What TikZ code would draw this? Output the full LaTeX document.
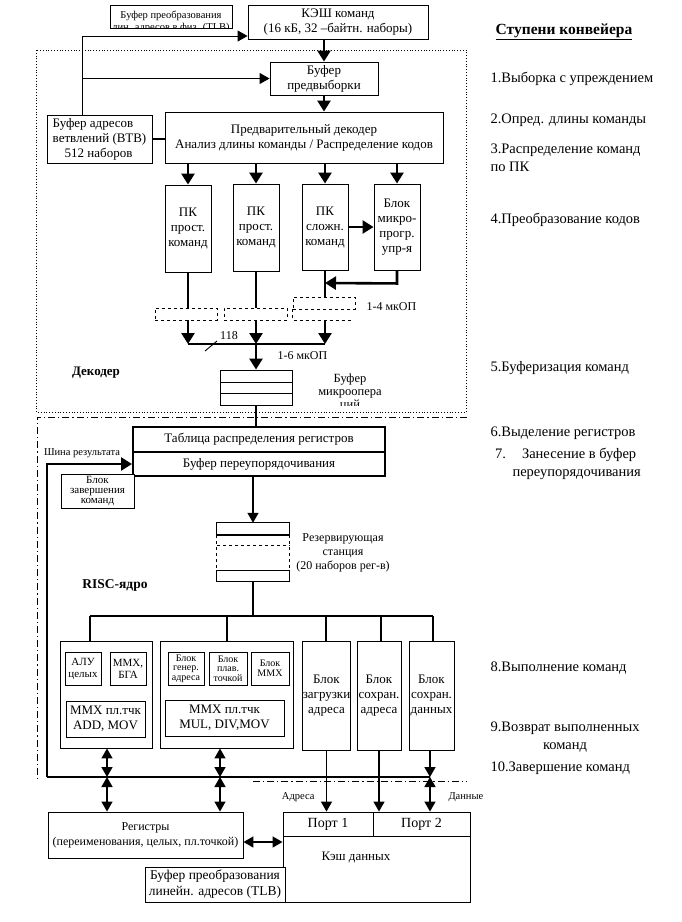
\documentclass[tikz,border=0pt]{standalone}
\usepackage{fontspec}
\setmainfont{Liberation Serif}
\usetikzlibrary{arrows.meta,calc}

\begin{document}
\begin{tikzpicture}[x=1pt,y=-1pt,
  font=\fontsize{13}{15}\selectfont,
  box/.style={draw,line width=0.9pt,inner sep=0.5pt,align=center,fill=white},
  sm/.style={font=\fontsize{10.5}{12}\selectfont},
  tiny/.style={font=\fontsize{10}{9.6}\selectfont},
  stage/.style={anchor=west,align=left,font=\fontsize{14.5}{18}\selectfont},
  hd/.style={-{Triangle[length=10pt,width=11pt]}},
  hdk/.style={-{Triangle[length=11pt,width=13pt]}},
  hh/.style={{Triangle[length=10pt,width=11pt]}-{Triangle[length=10pt,width=11pt]}},
  thk/.style={line width=2.6pt},
  mid/.style={line width=1.6pt},
  thn/.style={line width=0.9pt},
  dashbox/.style={draw,dashed,line width=0.7pt,minimum height=12,inner sep=0pt}]
\useasboundingbox (0,0) rectangle (681,922);

% frames
\draw[dotted,line width=0.8pt] (36,50) rectangle (466,412);
\draw[line width=0.8pt,dash pattern=on 7pt off 3pt on 1.2pt off 3pt]
  (467,417) -- (37,417) -- (37,782);
\draw[line width=0.8pt,dash pattern=on 7pt off 3pt on 1.2pt off 3pt]
  (253,781) -- (467,781);

% fetch
\node[box,minimum width=122,minimum height=23] (itlb) at (171,16.5) {};
\begin{scope}
  \clip (itlb.south west) rectangle (itlb.north east);
  \node[sm,align=center] (itlbtext) at (171,22) {Буфер преобразования\\лин. адресов в физ. (TLB)};
\end{scope}
\node[box,minimum width=180,minimum height=34] (cache) at (338,22) {КЭШ команд\\(16 кБ, 32 –байтн. наборы)};
\node[box,minimum width=108,minimum height=33] (pref) at (324,78.5) {Буфер\\предвыборки};
\node[box,minimum width=278,minimum height=51] (predec) at (304,137.5)
  {Предварительный декодер\\Анализ длины команды / Распределение кодов};
\node[box,minimum width=105,minimum height=48,align=left] (btb) at (99.5,139)
  {Буфер адресов\\ветвлений (ВТВ)\\\hspace{12pt}512 наборов};

\draw[thn,hd] (btb.north -| 82,0) -- (82,36) -- (cache.west |- 0,36);
\draw[thn,hd] (pref.west -| 82,0) -- (pref.west);
\draw[thk,hdk] (cache.south -| pref) -- (pref.north);
\draw[thk,hdk] (pref.south) -- (pref.south |- predec.north);
\draw[thk] (btb.east) -- (btb.east -| predec.west);

% decoders
\node[box,minimum width=46,minimum height=87] (pk1) at (188,228.5) {ПК\\прост.\\команд};
\node[box,minimum width=46,minimum height=87] (pk2) at (256,227.5) {ПК\\прост.\\команд};
\node[box,minimum width=46,minimum height=86] (pk3) at (325,227) {ПК\\сложн.\\команд};
\node[box,minimum width=46,minimum height=86] (mpu) at (397,227) {Блок\\микро-\\прогр.\\упр-я};
\foreach \n in {pk1,pk2,pk3,mpu}
  \draw[thk,hdk] (\n.north |- predec.south) -- (\n.north);
\draw[thk,hdk] (pk3.east) -- (mpu.west);
\draw[thk,hdk] (mpu.south) -- ++(0,13) -- (pk3.south |- 0,283);

\node[dashbox,minimum width=62] (d1) at (186,314) {};
\node[dashbox,minimum width=63] (d2) at (255.5,314) {};
\node[dashbox,minimum width=62] (d3) at (324,303) {};
\draw[dashed,line width=0.7pt] (d3.south west) -- (d3.south west |- d1.south) -- ++(60,0);
\draw[thk] (pk1.south) -- (pk1.south |- d1.north);
\draw[thk] (pk2.south) -- (pk2.south |- d2.north);
\draw[thk] (pk3.south) -- (pk3.south |- d3.north);

\coordinate (mrg) at (256,344);
\foreach \n in {pk1,pk2,pk3}
  \draw[thk,hdk] (\n.south |- d1.south) -- (\n.south |- mrg);
\draw[thk] (pk1.south |- mrg) -- (pk3.south |- mrg);
\node[font=\fontsize{12}{13}\selectfont] (n118) at (229,336) {118};
\draw[thn] (205,351) -- (217,341);
\node[anchor=west,font=\fontsize{12}{13}\selectfont] (uops4) at (363,307) {1-4 мкОП};
\node[anchor=west,font=\fontsize{12}{13}\selectfont] (uops6) at (274,356) {1-6 мкОП};

\node[box,minimum width=72,minimum height=35] (uop) at (256,387.5) {};
\draw[thn] ([yshift=5.5pt]uop.west) -- ([yshift=5.5pt]uop.east);
\draw[thn] ([yshift=-5.5pt]uop.west) -- ([yshift=-5.5pt]uop.east);
\draw[thk,hdk] (mrg) -- (uop.north);
\begin{scope}
  \clip (300,360) rectangle (420,405);
  \node[align=center,font=\fontsize{12.5}{13}\selectfont] (uoptext) at (350,392) {Буфер\\микроопера\\ций};
\end{scope}
\node[font=\bfseries\fontsize{13}{14}\selectfont] (dec) at (96,373) {Декодер};

% RISC core
\node[box,line width=2pt,minimum width=252,minimum height=25] (rat) at (259,439.5)
  {Таблица распределения регистров};
\node[box,line width=2pt,minimum width=252,minimum height=24] (rob) at (259,464)
  {Буфер переупорядочивания};
\draw[thk] (uop.south) -- (uop.south |- rat.north);
\node[box,font=\fontsize{11}{10}\selectfont,minimum width=73,minimum height=34,inner sep=0pt] (done) at (97.5,491) {Блок\\завершения\\команд};
\node[sm] (bus) at (82,453) {Шина результата};

\node[minimum width=72,minimum height=58,inner sep=0pt] (rs) at (253,552) {};
\draw[thn] (rs.north west) rectangle ($(rs.north east)+(0,12)$);
\draw[line width=2pt] ($(rs.north west)+(0,12)$) -- ($(rs.north east)+(0,12)$);
\draw[dashed,line width=0.7pt] ($(rs.north west)+(0,12)$) -- ($(rs.south west)+(0,-11)$);
\draw[dashed,line width=0.7pt] ($(rs.north east)+(0,12)$) -- ($(rs.south east)+(0,-11)$);
\draw[dashed,line width=0.7pt] ($(rs.north west)+(0,23)$) -- ($(rs.north east)+(0,23)$);
\draw[thn] ($(rs.south west)+(0,-11)$) rectangle (rs.south east);
\draw[mid,hd] (rs.north |- rob.south) -- (rs.north);
\node[align=center,font=\fontsize{12}{14}\selectfont] (rstext) at (343,553) {Резервирующая\\станция\\(20 наборов рег-в)};
\node[font=\bfseries\fontsize{13.5}{14}\selectfont] (risc) at (115,585) {RISC-ядро};

% execution units
\node[box,minimum width=92,minimum height=107] (g1) at (106,694.5) {};
\node[box,font=\fontsize{11}{12}\selectfont,minimum width=36,minimum height=33] (alu) at (83,668.5) {АЛУ\\целых};
\node[box,font=\fontsize{11}{12}\selectfont,minimum width=36,minimum height=33] (mmxa) at (128,668.5) {MMX,\\БГА};
\node[box,minimum width=79,minimum height=36] (addu) at (105.5,719) {MMX пл.тчк\\ADD, MOV};
\node[box,minimum width=133,minimum height=107] (g2) at (226.5,694.5) {};
\node[box,tiny,minimum width=36,minimum height=33,inner sep=0pt] (agu) at (186,668.5) {Блок\\генер.\\адреса};
\node[box,tiny,minimum width=38,minimum height=33,inner sep=0pt] (fpu) at (228,668.5) {Блок\\плав.\\точкой};
\node[box,tiny,minimum width=38,minimum height=33] (mmxb) at (270,668.5) {Блок\\MMX};
\node[box,minimum width=119,minimum height=36] (mulu) at (224.5,718) {MMX пл.тчк\\MUL, DIV,MOV};
\node[box,minimum width=47,minimum height=109,inner sep=0pt] (load) at (326.5,695.5) {Блок\\загрузки\\адреса};
\node[box,minimum width=44,minimum height=109,inner sep=0pt] (sta) at (379,695.5) {Блок\\сохран.\\адреса};
\node[box,minimum width=45,minimum height=109,inner sep=0pt] (std) at (431.5,695.5) {Блок\\сохран.\\данных};

\draw[mid] (rs.south) -- (rs.south |- 0,616);
\draw[mid] (90,616) -- (433,616);
\foreach \n/\x in {g1/90,g2/227,load/326,sta/381,std/433}
  \draw[mid] (\x,616) -- (\n.north -| \x,0);

% result bus
\coordinate (bl) at (47,777);
\coordinate (br) at (430,777);
\draw[thk,hdk] (bl) -- (bl |- rob.west) -- (rob.west);
\draw[thk] (bl) -- (br);

% registers and data cache
\node[box,font=\fontsize{12}{15}\selectfont,minimum width=195,minimum height=46] (regs) at (145.5,835)
  {Регистры\\(переименования, целых, пл.точкой)};
\node[box,minimum width=187,minimum height=90] (dcache) at (376.5,857) {};
\node[box,font=\fontsize{14}{15}\selectfont,minimum width=90,minimum height=24] (port1) at (328,824) {Порт 1};
\node[box,font=\fontsize{14}{15}\selectfont,minimum width=97,minimum height=24] (port2) at (421.5,824) {Порт 2};
\node (dctext) at (356,857) {Кэш данных};
\node[box,font=\fontsize{13.5}{16}\selectfont,minimum width=140,minimum height=35] (dtlb) at (215,884.5)
  {Буфер преобразования\\линейн. адресов (TLB)};

\foreach \x in {107,220} {
  \draw[mid,hh] (g1.south -| \x,0) -- (\x,777);
  \draw[mid,hh] (\x,777) -- (regs.north -| \x,0);
}
\draw[mid,hd] (load.south) -- (load.south |- port1.north);
\draw[mid,hd] (sta.south) -- (sta.south |- port2.north);
\draw[mid,hd] (std.south -| br) -- (br);
\draw[mid,hh] (br) -- (br |- port2.north);
\draw[mid,hh] (regs.east |- 0,842) -- (dcache.west |- 0,842);
\node[sm,anchor=east] (addrlbl) at (318,797) {Адреса};
\node[sm,anchor=west] (datalbl) at (445,797) {Данные};

% pipeline stages
\node[font=\bfseries\fontsize{15.5}{17}\selectfont] (sthead) at (564,32) {\underline{Ступени конвейера}};
\node[stage] (st1) at (487,79) {1.Выборка с упреждением};
\node[stage] (st2) at (487,120) {2.Опред. длины команды};
\node[stage] (st3) at (487,158) {3.Распределение команд\\по ПК};
\node[stage] (st4) at (487,220) {4.Преобразование кодов};
\node[stage] (st5) at (487,368) {5.Буферизация команд};
\node[stage] (st6) at (487,433) {6.Выделение регистров};
\node[stage,align=center] (st7) at (487,464) {7.\hspace{16pt}Занесение в буфер\\\hspace{22pt}переупорядочивания};
\node[stage] (st8) at (487,668) {8.Выполнение команд};
\node[stage,align=center] (st9) at (487,737) {9.Возврат выполненных\\команд};
\node[stage] (st10) at (487,768) {10.Завершение команд};
\end{tikzpicture}
\end{document}
